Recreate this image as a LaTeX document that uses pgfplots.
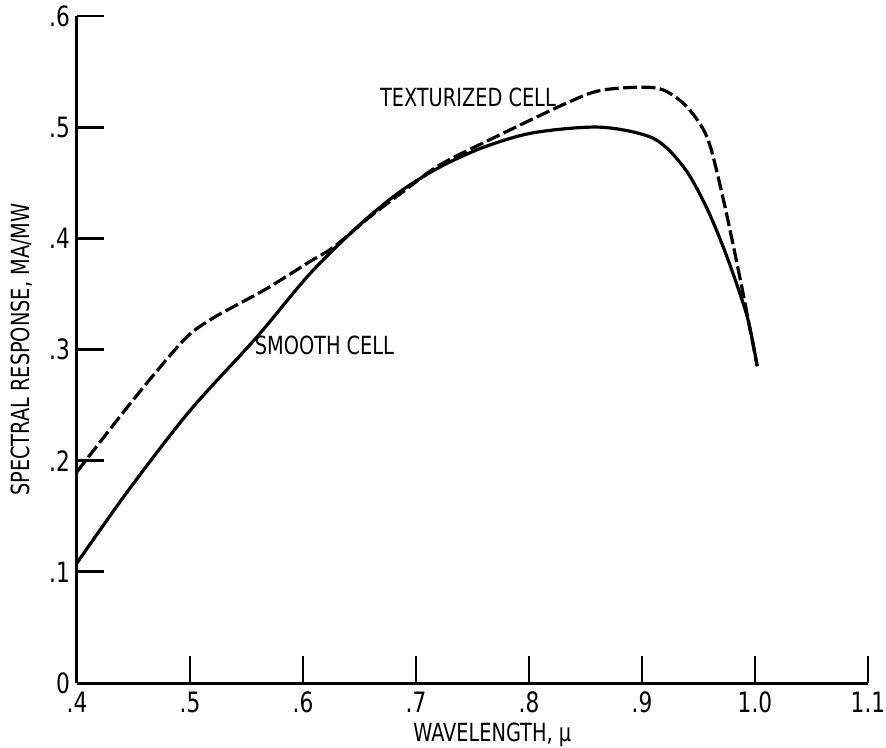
\documentclass[border=0pt]{standalone}
\usepackage{fontspec}
\setmainfont{DejaVu Sans Condensed}[FakeStretch=0.86]
\usepackage{pgfplots}
\pgfplotsset{compat=1.18}

\begin{document}
\begin{tikzpicture}
\begin{axis}[
    scale only axis,
    width=395.5pt, height=333.5pt,
    xmin=0.4, xmax=1.1, ymin=0, ymax=0.6,
    axis x line*=bottom, axis y line*=left,
    axis line style={line width=1.5pt},
    tick align=inside,
    major tick length=13.5pt,
    tick style={line width=1.4pt, black},
    xtick={0.4,0.5,0.6,0.7,0.8,0.9,1.0,1.1},
    xticklabels={.4,.5,.6,.7,.8,.9,1.0,1.1},
    ytick={0,0.1,0.2,0.3,0.4,0.5,0.6},
    yticklabels={0,.1,.2,.3,.4,.5,.6},
    ticklabel style={font=\fontsize{14}{16}\selectfont},
    xticklabel style={yshift=-1pt},
    label style={font=\fontsize{12.5}{14}\selectfont},
    xlabel={WAVELENGTH, μ},
    ylabel={SPECTRAL RESPONSE, MA/MW},
    xlabel style={at={(axis description cs:0.525,-0.077)}, anchor=center, inner sep=0pt},
    ylabel style={at={(axis description cs:-0.0695,0.5)}, anchor=center},
    clip=false,
]
% texturized cell (dashed)
\addplot[black, line width=1.6pt, dash pattern=on 7pt off 2.2pt, smooth, tension=0.5] coordinates {
    (0.400,0.190) (0.450,0.255) (0.495,0.309) (0.520,0.328) (0.545,0.342) (0.570,0.356)
    (0.606,0.379) (0.627,0.392) (0.660,0.420) (0.690,0.443) (0.721,0.466)
    (0.774,0.493) (0.834,0.522) (0.863,0.533) (0.900,0.536) (0.920,0.533)
    (0.940,0.518) (0.958,0.490) (0.972,0.435) (0.987,0.363) (0.997,0.311)
    (1.002,0.285)
};
% smooth cell (solid)
\addplot[black, line width=1.6pt, smooth, tension=0.5] coordinates {
    (0.400,0.108) (0.446,0.174) (0.500,0.245) (0.559,0.311) (0.606,0.368)
    (0.650,0.412) (0.686,0.442) (0.721,0.464) (0.760,0.482) (0.804,0.495)
    (0.863,0.500) (0.910,0.490) (0.937,0.464) (0.957,0.428) (0.975,0.384)
    (0.993,0.330) (1.002,0.285)
};
\node[font=\fontsize{12.5}{14}\selectfont] at (axis cs:0.746,0.527) {TEXTURIZED CELL};
\node[font=\fontsize{12.5}{14}\selectfont] at (axis cs:0.619,0.304) {SMOOTH CELL};

\coordinate (bl) at (rel axis cs:-0.0973,-0.096);
\coordinate (tr) at (rel axis cs:1.0228,1.024);
\end{axis}
\pgfresetboundingbox
\path[use as bounding box] (bl) rectangle (tr);
\end{tikzpicture}
\end{document}
